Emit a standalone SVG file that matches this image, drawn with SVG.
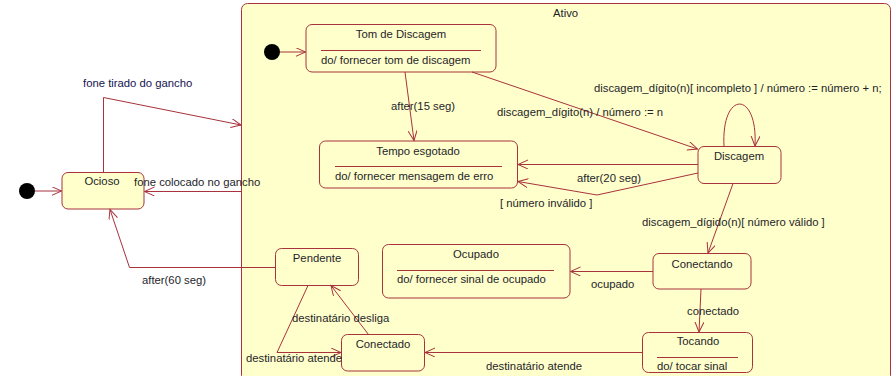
<svg xmlns="http://www.w3.org/2000/svg" width="896" height="376" viewBox="0 0 896 376">
<defs>
<marker id="ah" markerWidth="12" markerHeight="10" refX="10" refY="4.5" orient="auto" markerUnits="userSpaceOnUse">
<path d="M0,0 L10,4.5 L0,9" fill="none" stroke="#A8333C" stroke-width="1"/>
</marker>
<style>
.st{fill:#FFFFCC;stroke:#A8333C;stroke-width:1}
.ln{fill:none;stroke:#A8333C;stroke-width:1;marker-end:url(#ah)}
.pl{fill:none;stroke:#A8333C;stroke-width:1}
.sep{stroke:#A8333C;stroke-width:1}
.dot{fill:#000}
text{font-family:"Liberation Sans",Arial,sans-serif;font-size:11.3px;fill:#1e1e2a}
.c{text-anchor:middle}
.nv{fill:#141450}
</style>
</defs>
<rect width="896" height="376" fill="#fff"/>

<g id="Ativo">
<rect class="st" x="241.5" y="3.5" width="649" height="378" rx="6"/>
<text x="553" y="17">Ativo</text>
</g>

<g id="inicial_externo"><circle class="dot" cx="27" cy="191" r="8"/></g>
<g id="inicial_interno"><circle class="dot" cx="272" cy="52" r="8"/></g>

<g id="Ocioso">
<rect class="st" x="62" y="172.5" width="82" height="36.5" rx="6"/>
<text class="c" x="102" y="185">Ocioso</text>
</g>

<g id="TomDeDiscagem">
<rect class="st" x="306" y="24.5" width="190" height="47.5" rx="6"/>
<text class="c" x="401" y="38">Tom de Discagem</text>
<line class="sep" x1="321" y1="50.5" x2="481" y2="50.5"/>
<text x="321" y="64">do/ fornecer tom de discagem</text>
</g>

<g id="TempoEsgotado">
<rect class="st" x="319.5" y="141" width="198" height="47" rx="6"/>
<text class="c" x="418" y="155">Tempo esgotado</text>
<line class="sep" x1="335" y1="166.5" x2="502" y2="166.5"/>
<text x="335" y="180">do/ fornecer mensagem de erro</text>
</g>

<g id="Discagem">
<rect class="st" x="698" y="146.5" width="83" height="37" rx="6"/>
<text class="c" x="739" y="160">Discagem</text>
</g>

<g id="Conectando">
<rect class="st" x="653" y="253.5" width="98" height="35.5" rx="6"/>
<text class="c" x="702" y="268">Conectando</text>
</g>

<g id="Ocupado">
<rect class="st" x="382.5" y="244.5" width="187.5" height="53.5" rx="6"/>
<text class="c" x="476" y="258">Ocupado</text>
<line class="sep" x1="397" y1="270.5" x2="554" y2="270.5"/>
<text x="397" y="283">do/ fornecer sinal de ocupado</text>
</g>

<g id="Tocando">
<rect class="st" x="642.5" y="332.5" width="110" height="40" rx="6"/>
<text class="c" x="698" y="345">Tocando</text>
<line class="sep" x1="657" y1="357.5" x2="738" y2="357.5"/>
<text x="657" y="370">do/ tocar sinal</text>
</g>

<g id="Conectado">
<rect class="st" x="341.5" y="334.5" width="83" height="36.5" rx="6"/>
<text class="c" x="383" y="348">Conectado</text>
</g>

<g id="Pendente">
<rect class="st" x="275.5" y="248.5" width="83" height="37" rx="6"/>
<text class="c" x="317" y="262">Pendente</text>
</g>

<g id="conectores">
<line class="ln" x1="35" y1="191" x2="61.5" y2="191"/>
<line class="ln" x1="280" y1="52" x2="305.5" y2="52"/>
<polyline class="ln" points="103.5,172.5 103.5,97.5 241,125"/>
<line class="ln" x1="241.5" y1="191.5" x2="144.5" y2="191.5"/>
<line class="ln" x1="405" y1="72" x2="414" y2="140.5"/>
<line class="ln" x1="472" y1="72" x2="697.5" y2="149"/>
<path class="ln" d="M724,146.5 C721,90 758,90 755,146"/>
<line class="ln" x1="698" y1="164.5" x2="518" y2="164.5"/>
<polyline class="ln" points="698,173 597,195 518,181.5"/>
<line class="ln" x1="733" y1="183.5" x2="708" y2="253"/>
<line class="ln" x1="653" y1="271.5" x2="570.5" y2="271.5"/>
<line class="ln" x1="701" y1="289" x2="699" y2="332"/>
<line class="ln" x1="642.5" y1="352.5" x2="425" y2="352.5"/>
<polyline class="ln" points="275.5,267.5 129.5,267.5 110,209.5"/>
<polyline class="ln" points="308,285.5 277,352.5 341,352.5"/>
<line class="ln" x1="368.5" y1="334.5" x2="331" y2="285.5"/>
</g>

<g id="rotulos">
<text class="nv" x="83" y="87">fone tirado do gancho</text>
<text x="134" y="186">fone colocado no gancho</text>
<text x="391" y="110">after(15 seg)</text>
<text x="497" y="116">discagem_dígito(n) / número := n</text>
<text x="594" y="92">discagem_dígito(n)[ incompleto ] / número := número + n;</text>
<text x="577" y="182">after(20 seg)</text>
<text x="500" y="207">[ número inválido ]</text>
<text x="642" y="226">discagem_dígido(n)[ número válido ]</text>
<text x="591" y="288">ocupado</text>
<text x="687" y="315">conectado</text>
<text x="486" y="370">destinatário atende</text>
<text x="142" y="284">after(60 seg)</text>
<text x="292" y="322">destinatário desliga</text>
<text x="246" y="362">destinatário atende</text>
</g>
</svg>
